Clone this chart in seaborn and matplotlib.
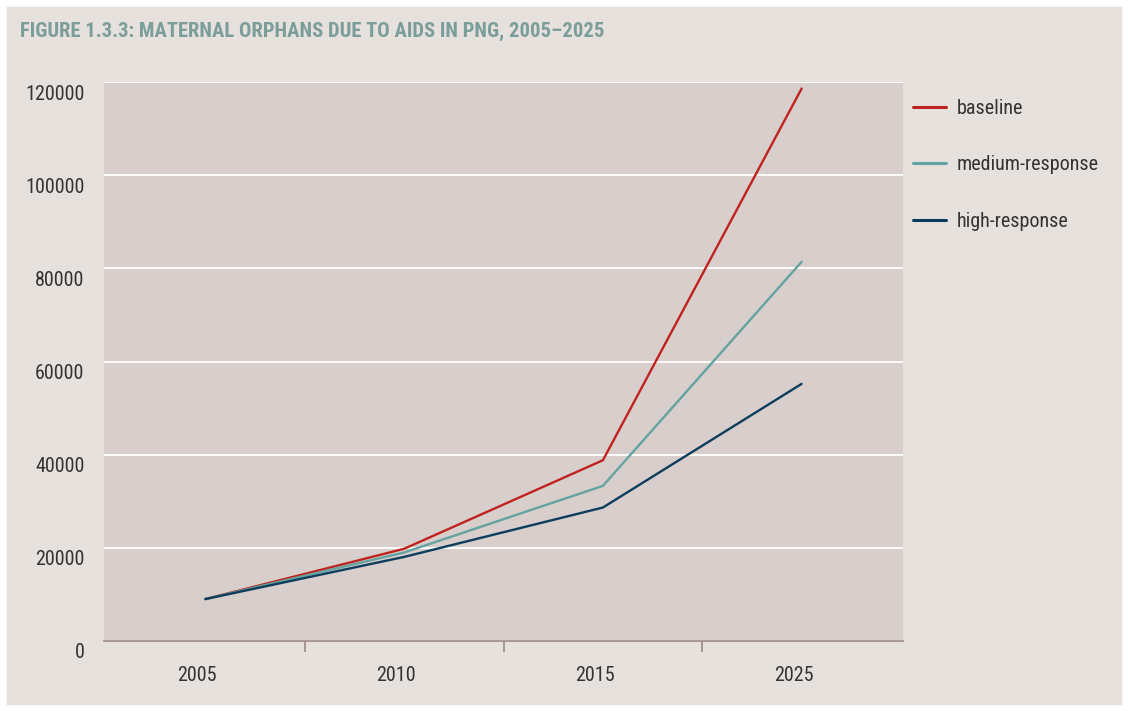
import matplotlib
matplotlib.use("Agg")
import matplotlib.pyplot as plt
import matplotlib.transforms as mtransforms
from matplotlib.lines import Line2D
from matplotlib.patches import Rectangle
from matplotlib import font_manager
import seaborn as sns
import pandas as pd

years = ["2005", "2010", "2015", "2025"]
baseline = [9000, 19800, 38800, 118600]
medium_response = [9000, 19000, 33300, 81400]
high_response = [9000, 18050, 28650, 55200]
series_names = ["baseline", "medium-response", "high-response"]
colors = ["#c0231f", "#63a4a0", "#0c3d5c"]
y_ticks = [0, 20000, 40000, 60000, 80000, 100000, 120000]
title = "FIGURE 1.3.3: MATERNAL ORPHANS DUE TO AIDS IN PNG, 2005\u20132025"

rows = []
for name, vals in zip(series_names, [baseline, medium_response, high_response]):
    for i, (yr, v) in enumerate(zip(years, vals)):
        rows.append({"pos": i, "year": yr, "value": v, "scenario": name})
df = pd.DataFrame(rows)

sns.set_theme(style="white")
available = {f.name for f in font_manager.fontManager.ttflist}
candidates = ["Roboto Condensed", "Liberation Sans Narrow", "DejaVu Sans Condensed",
              "Open Sans Condensed", "Noto Sans Condensed"]
chosen = [c for c in candidates if c in available]
cond_font = chosen[0] if chosen else None
plt.rcParams["font.family"] = ([cond_font] if cond_font else []) + ["DejaVu Sans"]
stretch = "normal" if cond_font else "condensed"

fig = plt.figure(figsize=(11.28, 7.11), dpi=100, facecolor="#e6e1dd")
fig.patches.append(Rectangle((0, 0), 1, 1, transform=fig.transFigure, fill=False,
                             edgecolor="white", linewidth=9, zorder=10))
ax = fig.add_axes([104/1128, 1 - 641/711, (903-104)/1128, (641-82)/711])
ax.set_facecolor("#d8cecb")

sns.lineplot(data=df, x="pos", y="value", hue="scenario", palette=dict(zip(series_names, colors)),
             hue_order=series_names, linewidth=1.7, ax=ax, legend=False)

ax.set_xlim(-0.51, 3.51)
ax.set_ylim(0, 120000)
ax.set_xlabel("")
ax.set_ylabel("")

for s in ["top", "right", "left"]:
    ax.spines[s].set_visible(False)
ax.spines["bottom"].set_color("#9c8a84")
ax.spines["bottom"].set_linewidth(1.2)

ax.set_yticks(y_ticks)
ax.set_yticklabels([str(t) for t in y_ticks])
ax.yaxis.grid(True, color="white", linewidth=1.3)
ax.set_axisbelow(True)
ax.tick_params(axis="y", length=0, pad=14, labelsize=14.5, labelcolor="#333333")
offset = mtransforms.ScaledTranslation(0, -10/100, fig.dpi_scale_trans)
for lab in ax.get_yticklabels():
    lab.set_transform(lab.get_transform() + offset)

ax.set_xticks([0.5, 1.5, 2.5])
ax.set_xticklabels([])
ax.set_xticks([0, 1, 2, 3], minor=True)
ax.set_xticklabels(years, minor=True)
ax.tick_params(axis="x", which="major", direction="out", length=8, width=1.2, color="#9c8a84", bottom=True)
ax.tick_params(axis="x", which="minor", length=0, pad=18, labelsize=14.5, labelcolor="#333333", bottom=True)
xoff = mtransforms.ScaledTranslation(-8/100, 0, fig.dpi_scale_trans)
for lab in ax.get_xticklabels(minor=True):
    lab.set_transform(lab.get_transform() + xoff)
ax.xaxis.grid(False)

handles = [Line2D([0], [0], color=c, linewidth=2.2) for c in colors]
leg = fig.legend(handles, series_names, loc="upper left", bbox_to_anchor=(0.7935, 0.886),
                 frameon=False, fontsize=14.5, handlelength=1.65, handletextpad=0.5,
                 labelspacing=1.85, labelcolor="#333333")

fig.text(20/1128, 1 - 31/711, title, ha="left", va="center", fontsize=14.9,
         fontweight="bold", color="#7c9e9b")

for t in fig.findobj(matplotlib.text.Text):
    t.set_fontstretch(stretch)

fig.savefig("out.png", dpi=100, facecolor=fig.get_facecolor())
